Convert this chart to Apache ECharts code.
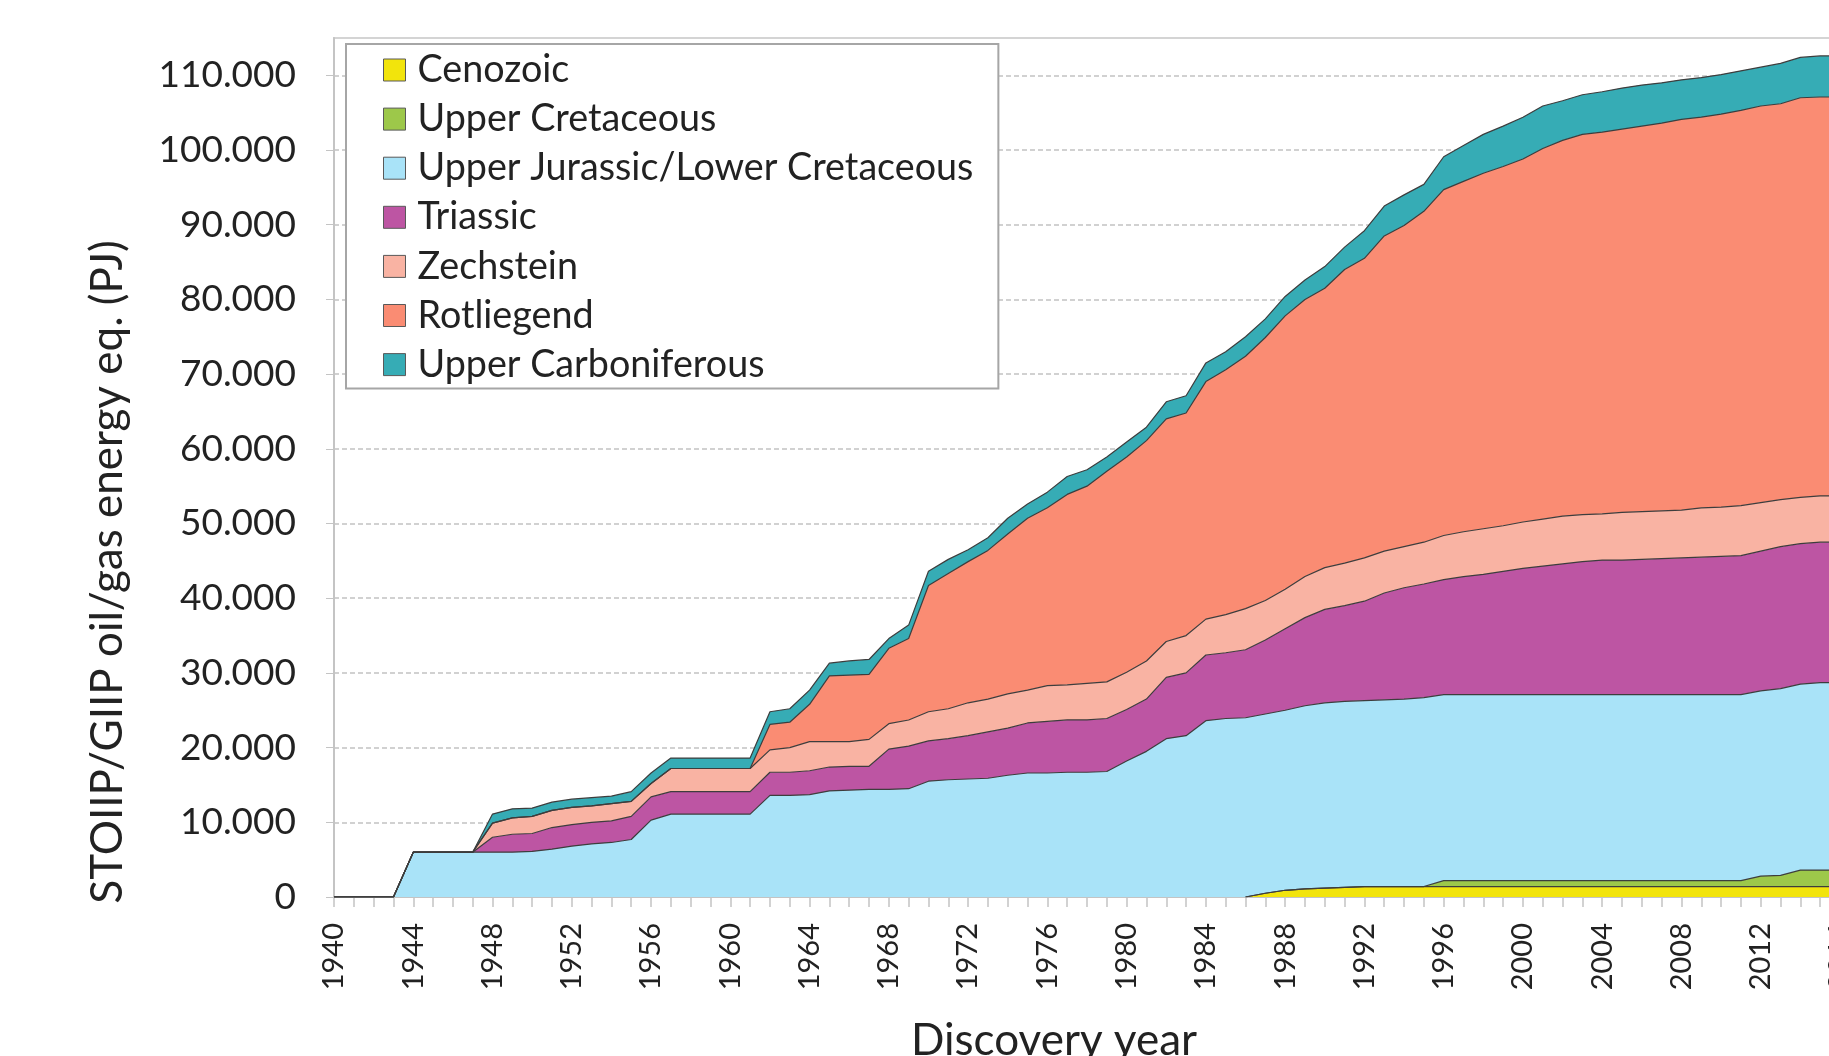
<!DOCTYPE html>
<html>
<head>
<meta charset="utf-8">
<script src="https://cdn.jsdelivr.net/npm/echarts@6/dist/echarts.min.js"></script>
<style>
  html, body { margin: 0; padding: 0; background: #fff; overflow: hidden; }
  #chart { width: 1829px; height: 1056px; }
</style>
</head>
<body>
<div id="chart"></div>
<script>
// discovery years on the category axis
const years = [];
for (let y = 1940; y <= 2016; y++) years.push(String(y));

const seriesNames = ['Cenozoic', 'Upper Cretaceous', 'Upper Jurassic/Lower Cretaceous',
    'Triassic', 'Zechstein', 'Rotliegend', 'Upper Carboniferous'];
const seriesColors = ['#f2e40c', '#9dc84a', '#a9e3f8', '#bd55a3', '#f9b3a3', '#fa8c73', '#36acb5'];

// cumulative STOIIP/GIIP per play (PJ), one row per decade
const cenozoic = [
    null, null, null, null, null, null, null, null, null, null,
    null, null, null, null, null, null, null, null, null, null,
    null, null, null, null, null, null, null, null, null, null,
    null, null, null, null, null, null, null, null, null, null,
    null, null, null, null, null, null, 0, 500, 900, 1100,
    1200, 1300, 1400, 1400, 1400, 1400, 1400, 1400, 1400, 1400,
    1400, 1400, 1400, 1400, 1400, 1400, 1400, 1400, 1400, 1400,
    1400, 1400, 1400, 1400, 1400, 1400, 1400
];
const upperCretaceous = [
    null, null, null, null, null, null, null, null, null, null,
    null, null, null, null, null, null, null, null, null, null,
    null, null, null, null, null, null, null, null, null, null,
    null, null, null, null, null, null, null, null, null, null,
    null, null, null, null, null, null, 0, 0, 0, 0,
    0, 0, 0, 0, 0, 0, 800, 800, 800, 800,
    800, 800, 800, 800, 800, 800, 800, 800, 800, 800,
    800, 800, 1400, 1500, 2200, 2200, 2200
];
const upperJurassic = [
    0, 0, 0, 0, 6000, 6000, 6000, 6000, 6000, 6000,
    6100, 6400, 6800, 7100, 7300, 7700, 10300, 11100, 11100, 11100,
    11100, 11100, 13600, 13600, 13700, 14200, 14300, 14400, 14400, 14500,
    15500, 15700, 15800, 15900, 16300, 16600, 16600, 16700, 16700, 16800,
    18200, 19500, 21200, 21600, 23600, 23900, 24000, 24000, 24100, 24500,
    24800, 24900, 24900, 25000, 25100, 25300, 24900, 24900, 24900, 24900,
    24900, 24900, 24900, 24900, 24900, 24900, 24900, 24900, 24900, 24900,
    24900, 24900, 24800, 25000, 24900, 25100, 25100
];
const triassic = [
    0, 0, 0, 0, 0, 0, 0, 0, 2000, 2400,
    2400, 2900, 2900, 2900, 2900, 3100, 3100, 3000, 3000, 3000,
    3000, 3000, 3100, 3100, 3200, 3200, 3200, 3100, 5400, 5700,
    5400, 5500, 5800, 6200, 6300, 6700, 6900, 7000, 7000, 7100,
    6900, 7000, 8200, 8400, 8800, 8800, 9100, 9900, 10900, 11800,
    12500, 12800, 13300, 14300, 14900, 15200, 15400, 15800, 16100, 16500,
    16900, 17200, 17500, 17800, 18000, 18000, 18100, 18200, 18300, 18400,
    18500, 18600, 18700, 19000, 18800, 18800, 18800
];
const zechstein = [
    0, 0, 0, 0, 0, 0, 0, 0, 1900, 2200,
    2300, 2300, 2300, 2200, 2300, 2000, 1800, 3100, 3100, 3100,
    3100, 3100, 3000, 3300, 3900, 3400, 3300, 3600, 3400, 3500,
    3900, 4000, 4400, 4400, 4600, 4400, 4800, 4700, 4900, 4900,
    5000, 5100, 4800, 5000, 4800, 5100, 5500, 5300, 5300, 5500,
    5600, 5700, 5800, 5600, 5500, 5600, 5900, 6000, 6100, 6100,
    6200, 6300, 6400, 6300, 6200, 6400, 6400, 6400, 6400, 6600,
    6600, 6700, 6500, 6300, 6200, 6200, 6200
];
const rotliegend = [
    0, 0, 0, 0, 0, 0, 0, 0, 0, 0,
    0, 0, 0, 0, 0, 0, 0, 0, 0, 0,
    0, 0, 3400, 3400, 5000, 8800, 8900, 8700, 10100, 10900,
    16900, 18100, 18900, 19900, 21400, 23000, 23800, 25500, 26400, 28200,
    28800, 29500, 29800, 29800, 31800, 32800, 33800, 35200, 36600, 37100,
    37400, 39300, 40100, 42200, 43000, 44300, 46300, 46900, 47600, 48100,
    48600, 49600, 50300, 50900, 51100, 51300, 51600, 51900, 52300, 52300,
    52600, 52900, 53100, 53000, 53500, 53400, 53400
];
const upperCarboniferous = [
    0, 0, 0, 0, 0, 0, 0, 0, 1200, 1200,
    1100, 1100, 1100, 1100, 1000, 1300, 1400, 1400, 1400, 1400,
    1400, 1400, 1700, 1800, 1900, 1700, 1900, 2000, 1300, 1800,
    1900, 1900, 1600, 1700, 2100, 1900, 2100, 2400, 2200, 1900,
    2000, 1800, 2300, 2300, 2500, 2400, 2600, 2500, 2600, 2600,
    2900, 3000, 3700, 4000, 4100, 3600, 4400, 4800, 5200, 5400,
    5600, 5700, 5300, 5300, 5400, 5500, 5500, 5400, 5300, 5300,
    5300, 5300, 5200, 5400, 5400, 5500, 5500
];

const seriesData = [cenozoic, upperCretaceous, upperJurassic, triassic,
    zechstein, rotliegend, upperCarboniferous];

const FONT = 'Lato';
const TEXT = '#222';

function dotted(v) {
    return String(v).replace(/\B(?=(\d{3})+(?!\d))/g, '.');
}

const option = {
    animation: false,
    backgroundColor: '#fff',
    grid: {
        left: 334,
        top: 38,
        width: 1506,
        height: 859,
        outerBoundsMode: 'none',
        containLabel: false,
        show: true,
        borderColor: '#d4d4d4',
        borderWidth: 2,
    },
    legend: {
        orient: 'vertical',
        left: 346,
        top: 44,
        padding: [7, 25, 5, 37],
        itemWidth: 22,
        itemHeight: 22,
        itemGap: 11.1,
        icon: 'rect',
        backgroundColor: '#fff',
        borderColor: '#a6a6a6',
        borderWidth: 2,
        itemStyle: { borderColor: '#595959', borderWidth: 1 },
        textStyle: {
            fontFamily: FONT,
            fontSize: 37.7,
            lineHeight: 37,
            color: TEXT,
            padding: [0, 0, 0, 7],
        },
        data: seriesNames,
    },
    xAxis: {
        type: 'category',
        data: years,
        boundaryGap: false,
        axisLine: { lineStyle: { color: '#c4c4c4', width: 2 } },
        axisTick: { interval: 0, length: 10, lineStyle: { color: '#c4c4c4', width: 1.5 } },
        axisLabel: {
            interval: 3,
            rotate: 90,
            margin: 26,
            fontFamily: FONT,
            fontSize: 29,
            color: TEXT,
        },
        splitLine: { show: false },
    },
    yAxis: {
        type: 'value',
        min: 0,
        max: 115000,
        interval: 10000,
        axisLine: { show: true, lineStyle: { color: '#c4c4c4', width: 2 } },
        axisTick: { show: true, length: 8, lineStyle: { color: '#c4c4c4' } },
        axisLabel: {
            margin: 38,
            fontFamily: FONT,
            fontSize: 37,
            color: TEXT,
            showMaxLabel: false,
            formatter: v => (v % 10000 === 0 ? dotted(v) : ''),
        },
        splitLine: {
            showMaxLine: false,
            lineStyle: { color: '#c2c2c2', type: [5, 3], width: 1.5 },
        },
    },
    graphic: [
        {
            type: 'text',
            x: 108,
            y: 572,
            rotation: Math.PI / 2,
            style: {
                text: 'STOIIP/GIIP oil/gas energy eq. (PJ)',
                font: '44px ' + FONT,
                fill: TEXT,
                align: 'center',
                verticalAlign: 'middle',
            },
        },
        {
            type: 'text',
            x: 1054,
            y: 1041,
            style: {
                text: 'Discovery year',
                font: '44px ' + FONT,
                fill: TEXT,
                align: 'center',
                verticalAlign: 'middle',
            },
        },
    ],
    series: seriesNames.map((name, i) => ({
        name: name,
        type: 'line',
        stack: 'total',
        data: seriesData[i],
        symbol: 'none',
        smooth: false,
        lineStyle: { color: '#3d3d3d', width: 1.2 },
        itemStyle: { color: seriesColors[i] },
        areaStyle: { color: seriesColors[i], opacity: 1 },
        emphasis: { disabled: true },
    })),
};

const chart = echarts.init(document.getElementById('chart'));
chart.setOption(option);
</script>
</body>
</html>
